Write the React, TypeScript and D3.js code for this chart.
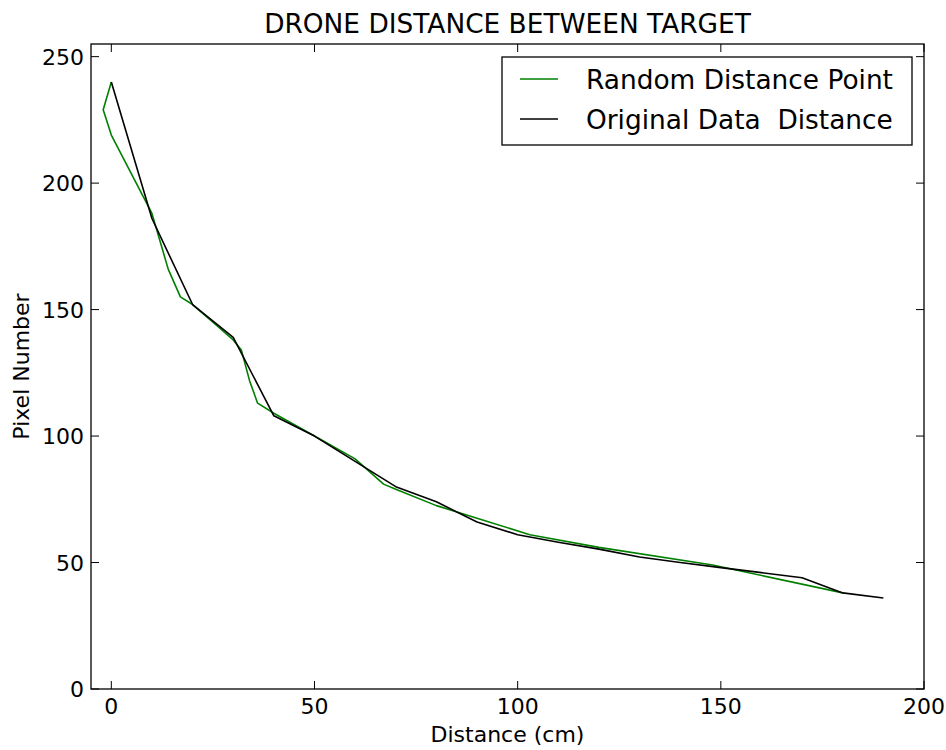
import React from "react";
import * as d3 from "d3";

// Randomly sampled distances and their pixel counts
const randomDistance = [0, -2, 0, 10, 14, 17, 20, 25, 30, 32, 34, 36, 40, 50, 60, 67, 70, 80, 90, 103, 120, 148, 180];
const randomPixels = [240, 229, 219, 188, 166, 155, 152, 145, 138, 134, 122, 113, 109, 100, 91, 81, 79, 72.5, 67.5, 61, 56, 49, 38];

// Original measured data
const originalDistance = [0, 10, 20, 30, 40, 50, 60, 70, 80, 90, 100, 110, 120, 130, 140, 150, 160, 170, 180, 190];
const originalPixels = [240, 186, 152, 139, 108, 100, 90, 80, 74, 66, 61, 58, 55.3, 52.2, 50, 48, 46, 44, 38, 36];

const xTicks = [0, 50, 100, 150, 200];
const yTicks = [0, 50, 100, 150, 200, 250];

const seriesNames = ["Random Distance Point", "Original Data  Distance"];
const seriesColors = ["#008000", "#000000"];

const WIDTH = 946;
const HEIGHT = 750;
const left = 91;
const right = 924;
const top = 44;
const bottom = 689;
const FONT = "'DejaVu Sans', sans-serif";

export default function App() {
  const x = d3.scaleLinear().domain([-5, 200]).range([left, right]);
  const y = d3.scaleLinear().domain([0, 255]).range([bottom, top]);

  const line = d3
    .line<[number, number]>()
    .x((d) => x(d[0]))
    .y((d) => y(d[1]));

  const randomPts = randomDistance.map((d, i) => [d, randomPixels[i]] as [number, number]);
  const originalPts = originalDistance.map((d, i) => [d, originalPixels[i]] as [number, number]);

  const tickLen = 8;

  return (
    <svg
      width={WIDTH}
      height={HEIGHT}
      style={{ position: "absolute", left: 0, top: 0, background: "#fff" }}
      fontFamily={FONT}
    >
      <rect x={0} y={0} width={WIDTH} height={HEIGHT} fill="#fff" />
      <defs>
        <clipPath id="plot-clip">
          <rect x={left} y={top} width={right - left} height={bottom - top} />
        </clipPath>
      </defs>

      {/* data lines */}
      <g clipPath="url(#plot-clip)" fill="none" strokeLinejoin="round">
        <path d={line(randomPts) || ""} stroke={seriesColors[0]} strokeWidth={1.6} />
        <path d={line(originalPts) || ""} stroke={seriesColors[1]} strokeWidth={1.6} />
      </g>

      {/* ticks on all four sides, pointing inward */}
      <g stroke="#000" strokeWidth={1}>
        {xTicks.map((t) => (
          <g key={"xt" + t}>
            <line x1={x(t)} x2={x(t)} y1={bottom} y2={bottom - tickLen} />
            <line x1={x(t)} x2={x(t)} y1={top} y2={top + tickLen} />
          </g>
        ))}
        {yTicks.map((t) => (
          <g key={"yt" + t}>
            <line x1={left} x2={left + tickLen} y1={y(t)} y2={y(t)} />
            <line x1={right} x2={right - tickLen} y1={y(t)} y2={y(t)} />
          </g>
        ))}
      </g>

      {/* frame */}
      <rect
        x={left}
        y={top}
        width={right - left}
        height={bottom - top}
        fill="none"
        stroke="#000"
        strokeWidth={1.3}
      />

      {/* tick labels */}
      <g fontSize={22} fill="#000">
        {xTicks.map((t) => (
          <text key={"xl" + t} x={x(t)} y={bottom + 25} textAnchor="middle">
            {t}
          </text>
        ))}
        {yTicks.map((t) => (
          <text key={"yl" + t} x={left - 7} y={y(t) + 8} textAnchor="end">
            {t}
          </text>
        ))}
      </g>

      {/* axis labels */}
      <text x={(left + right) / 2} y={742} textAnchor="middle" fontSize={22}>
        Distance (cm)
      </text>
      <text
        transform={`translate(${29}, ${(top + bottom) / 2}) rotate(-90)`}
        textAnchor="middle"
        fontSize={22}
      >
        Pixel Number
      </text>

      {/* title */}
      <text x={(left + right) / 2} y={33} textAnchor="middle" fontSize={26.4}>
        DRONE DISTANCE BETWEEN TARGET
      </text>

      {/* legend */}
      <g>
        <rect x={502} y={57} width={410} height={88} fill="#fff" stroke="#000" strokeWidth={1.3} />
        {seriesNames.map((name, i) => (
          <g key={name}>
            <line
              x1={520}
              x2={558}
              y1={79 + i * 40}
              y2={79 + i * 40}
              stroke={seriesColors[i]}
              strokeWidth={1.6}
            />
            <text
              x={586}
              y={88.5 + i * 40}
              fontSize={26.4}
              fill="#000"
              style={{ whiteSpace: "pre" }}
            >
              {name}
            </text>
          </g>
        ))}
      </g>
    </svg>
  );
}
